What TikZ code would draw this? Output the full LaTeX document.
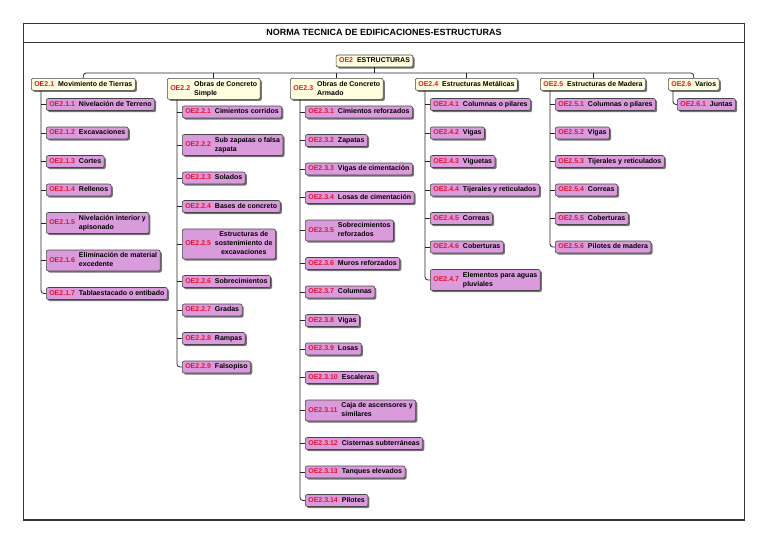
\documentclass[tikz,border=0pt]{standalone}
\usepackage{fontspec}
\setmainfont{Liberation Sans}
\usetikzlibrary{shadows}
\definecolor{codred}{RGB}{232,16,48}
\definecolor{leaffill}{RGB}{218,155,220}
\definecolor{headfill}{RGB}{255,254,222}
\definecolor{edgegray}{RGB}{70,70,70}
\newcommand{\cod}[3][l]{\textcolor{codred}{#2}\hspace{4pt}\begin{tabular}{@{}#1@{}}#3\end{tabular}}
\tikzset{
  box/.style={draw=edgegray, line width=0.6pt, rounded corners=2pt, inner xsep=3pt, inner ysep=1.5pt,
    drop shadow={shadow xshift=1.6pt, shadow yshift=-1.6pt, fill=black!55, opacity=1}},
  head/.style={box, fill=headfill, anchor=north west},
  leaf/.style={box, fill=leaffill, anchor=west},
  link/.style={draw=black!85, line width=0.8pt},
}
\begin{document}
\begin{tikzpicture}[x=1pt, y=-1pt, every node/.style={font=\fontsize{7}{9}\selectfont\bfseries}]
\useasboundingbox (0,0) rectangle (768,543);
\draw[line width=1.1pt, black!80] (23.5,23.5) rectangle (744.5,520); \draw[line width=1.1pt, black!80] (23.5,42.3) -- (744.5,42.3);
\node[font=\fontsize{9}{11}\selectfont\bfseries] (title) at (384,32.8) {NORMA TECNICA DE EDIFICACIONES-ESTRUCTURAS};
% raiz y primer nivel
\node[head, anchor=center] (root) at (374.5,61) {\cod{OE2}{ESTRUCTURAS}};
\coordinate (bus) at (374.5,73);
\node[head] (p1) at (31,78) {\cod{OE2.1}{Movimiento de Tierras}};
\node[head] (p2) at (167,78) {\cod{OE2.2}{Obras de Concreto\\Simple}};
\node[head] (p3) at (290,78) {\cod{OE2.3}{Obras de Concreto\\Armado}};
\node[head] (p4) at (415,78) {\cod{OE2.4}{Estructuras Metálicas}};
\node[head] (p5) at (540,78) {\cod{OE2.5}{Estructuras de Madera}};
\node[head] (p6) at (668,78) {\cod{OE2.6}{Varios}};
\draw[link] (root.south) -- (bus);
\draw[link, rounded corners=3pt] (p1.north) |- (bus) -| (p6.north);
\draw[link] (p2.north) -- (p2.north |- bus); \draw[link] (p3.north) -- (p3.north |- bus);
\draw[link] (p4.north) -- (p4.north |- bus); \draw[link] (p5.north) -- (p5.north |- bus);
% OE2.1
\coordinate (t1) at ([xshift=10pt]p1.south west);
\node[leaf] (c11) at (46,104.5) {\cod{OE2.1.1}{Nivelación de Terreno}}; \draw[link] (t1 |- c11.west) -- (c11.west);
\node[leaf] (c12) at (46,133) {\cod{OE2.1.2}{Excavaciones}}; \draw[link] (t1 |- c12.west) -- (c12.west);
\node[leaf] (c13) at (46,161.5) {\cod{OE2.1.3}{Cortes}}; \draw[link] (t1 |- c13.west) -- (c13.west);
\node[leaf] (c14) at (46,190) {\cod{OE2.1.4}{Rellenos}}; \draw[link] (t1 |- c14.west) -- (c14.west);
\node[leaf] (c15) at (46,223) {\cod{OE2.1.5}{Nivelación interior y\\apisonado}}; \draw[link] (t1 |- c15.west) -- (c15.west);
\node[leaf] (c16) at (46,260.5) {\cod{OE2.1.6}{Eliminación de material\\excedente}}; \draw[link] (t1 |- c16.west) -- (c16.west);
\node[leaf] (c17) at (46,293.5) {\cod{OE2.1.7}{Tablaestacado o entibado}}; \draw[link, rounded corners=3pt] (t1) |- (c17.west);
% OE2.2
\coordinate (t2) at ([xshift=10pt]p2.south west);
\node[leaf] (c21) at (182,112) {\cod{OE2.2.1}{Cimientos corridos}}; \draw[link] (t2 |- c21.west) -- (c21.west);
\node[leaf] (c22) at (182,145) {\cod{OE2.2.2}{Sub zapatas o falsa\\zapata}}; \draw[link] (t2 |- c22.west) -- (c22.west);
\node[leaf] (c23) at (182,178) {\cod{OE2.2.3}{Solados}}; \draw[link] (t2 |- c23.west) -- (c23.west);
\node[leaf] (c24) at (182,206.5) {\cod{OE2.2.4}{Bases de concreto}}; \draw[link] (t2 |- c24.west) -- (c24.west);
\node[leaf] (c25) at (182,244) {\cod[c]{OE2.2.5}{Estructuras de\\sostenimiento de\\excavaciones}}; \draw[link] (t2 |- c25.west) -- (c25.west);
\node[leaf] (c26) at (182,281.5) {\cod{OE2.2.6}{Sobrecimientos}}; \draw[link] (t2 |- c26.west) -- (c26.west);
\node[leaf] (c27) at (182,310) {\cod{OE2.2.7}{Gradas}}; \draw[link] (t2 |- c27.west) -- (c27.west);
\node[leaf] (c28) at (182,338.5) {\cod{OE2.2.8}{Rampas}}; \draw[link] (t2 |- c28.west) -- (c28.west);
\node[leaf] (c29) at (182,367) {\cod{OE2.2.9}{Falsopiso}}; \draw[link, rounded corners=3pt] (t2) |- (c29.west);
% OE2.3
\coordinate (t3) at ([xshift=10pt]p3.south west);
\node[leaf] (c31) at (305,112) {\cod{OE2.3.1}{Cimientos reforzados}}; \draw[link] (t3 |- c31.west) -- (c31.west);
\node[leaf] (c32) at (305,140.5) {\cod{OE2.3.2}{Zapatas}}; \draw[link] (t3 |- c32.west) -- (c32.west);
\node[leaf] (c33) at (305,169) {\cod{OE2.3.3}{Vigas de cimentación}}; \draw[link] (t3 |- c33.west) -- (c33.west);
\node[leaf] (c34) at (305,197.5) {\cod{OE2.3.4}{Losas de cimentación}}; \draw[link] (t3 |- c34.west) -- (c34.west);
\node[leaf] (c35) at (305,230.5) {\cod{OE2.3.5}{Sobrecimientos\\reforzados}}; \draw[link] (t3 |- c35.west) -- (c35.west);
\node[leaf] (c36) at (305,263.5) {\cod{OE2.3.6}{Muros reforzados}}; \draw[link] (t3 |- c36.west) -- (c36.west);
\node[leaf] (c37) at (305,292) {\cod{OE2.3.7}{Columnas}}; \draw[link] (t3 |- c37.west) -- (c37.west);
\node[leaf] (c38) at (305,320.5) {\cod{OE2.3.8}{Vigas}}; \draw[link] (t3 |- c38.west) -- (c38.west);
\node[leaf] (c39) at (305,349) {\cod{OE2.3.9}{Losas}}; \draw[link] (t3 |- c39.west) -- (c39.west);
\node[leaf] (c310) at (305,377.5) {\cod{OE2.3.10}{Escaleras}}; \draw[link] (t3 |- c310.west) -- (c310.west);
\node[leaf] (c311) at (305,410.5) {\cod{OE2.3.11}{Caja de ascensores y\\similares}}; \draw[link] (t3 |- c311.west) -- (c311.west);
\node[leaf] (c312) at (305,443.5) {\cod{OE2.3.12}{Cisternas subterráneas}}; \draw[link] (t3 |- c312.west) -- (c312.west);
\node[leaf] (c313) at (305,472) {\cod{OE2.3.13}{Tanques elevados}}; \draw[link] (t3 |- c313.west) -- (c313.west);
\node[leaf] (c314) at (305,500.5) {\cod{OE2.3.14}{Pilotes}}; \draw[link, rounded corners=3pt] (t3) |- (c314.west);
% OE2.4
\coordinate (t4) at ([xshift=10pt]p4.south west);
\node[leaf] (c41) at (430,104.5) {\cod{OE2.4.1}{Columnas o pilares}}; \draw[link] (t4 |- c41.west) -- (c41.west);
\node[leaf] (c42) at (430,133) {\cod{OE2.4.2}{Vigas}}; \draw[link] (t4 |- c42.west) -- (c42.west);
\node[leaf] (c43) at (430,161.5) {\cod{OE2.4.3}{Viguetas}}; \draw[link] (t4 |- c43.west) -- (c43.west);
\node[leaf] (c44) at (430,190) {\cod{OE2.4.4}{Tijerales y reticulados}}; \draw[link] (t4 |- c44.west) -- (c44.west);
\node[leaf] (c45) at (430,218.5) {\cod{OE2.4.5}{Correas}}; \draw[link] (t4 |- c45.west) -- (c45.west);
\node[leaf] (c46) at (430,247) {\cod{OE2.4.6}{Coberturas}}; \draw[link] (t4 |- c46.west) -- (c46.west);
\node[leaf] (c47) at (430,280) {\cod{OE2.4.7}{Elementos para aguas\\pluviales}}; \draw[link, rounded corners=3pt] (t4) |- (c47.west);
% OE2.5
\coordinate (t5) at ([xshift=10pt]p5.south west);
\node[leaf] (c51) at (555,104.5) {\cod{OE2.5.1}{Columnas o pilares}}; \draw[link] (t5 |- c51.west) -- (c51.west);
\node[leaf] (c52) at (555,133) {\cod{OE2.5.2}{Vigas}}; \draw[link] (t5 |- c52.west) -- (c52.west);
\node[leaf] (c53) at (555,161.5) {\cod{OE2.5.3}{Tijerales y reticulados}}; \draw[link] (t5 |- c53.west) -- (c53.west);
\node[leaf] (c54) at (555,190) {\cod{OE2.5.4}{Correas}}; \draw[link] (t5 |- c54.west) -- (c54.west);
\node[leaf] (c55) at (555,218.5) {\cod{OE2.5.5}{Coberturas}}; \draw[link] (t5 |- c55.west) -- (c55.west);
\node[leaf] (c56) at (555,247) {\cod{OE2.5.6}{Pilotes de madera}}; \draw[link, rounded corners=3pt] (t5) |- (c56.west);
% OE2.6
\coordinate (t6) at ([xshift=5pt]p6.south west);
\node[leaf] (c61) at (677,104.5) {\cod{OE2.6.1}{Juntas}}; \draw[link, rounded corners=3pt] (t6) |- (c61.west);
\end{tikzpicture}
\end{document}
